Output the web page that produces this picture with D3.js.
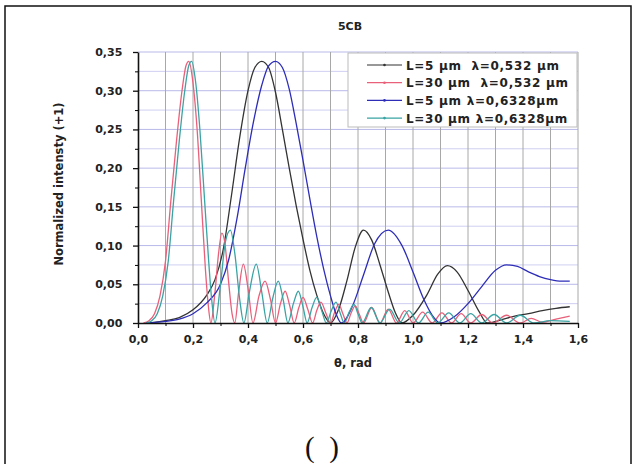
<!DOCTYPE html>
<html><head><meta charset="utf-8">
<script src="https://cdn.jsdelivr.net/npm/d3@7"></script>
<style>
html,body{margin:0;padding:0;background:#fff;}
svg{display:block;}
text{white-space:pre;}
</style></head>
<body>
<svg id="chart" width="636" height="464"></svg>
<script>
// ---- data ----
const titleText = "5CB";
const xLabel = "\u03b8, rad";
const yLabel = "Normalized intensty (+1)";
const xTicks = [0, 0.2, 0.4, 0.6, 0.8, 1.0, 1.2, 1.4, 1.6];
const yTicks = [0, 0.05, 0.10, 0.15, 0.20, 0.25, 0.30, 0.35];
const seriesNames = ["L=5 \u03bcm  \u03bb=0,532 \u03bcm", "L=30 \u03bcm  \u03bb=0,532 \u03bcm", "L=5 \u03bcm \u03bb=0,6328\u03bcm", "L=30 \u03bcm \u03bb=0,6328\u03bcm"];
const seriesColors = ["#333333", "#e8607a", "#2d2db8", "#3aa3a3"];

// L=5 um, lambda=0.532 um
const black = [[0.03,0],[0.06,0.0008],[0.1,0.003],[0.15,0.007],[0.2,0.017],[0.25,0.036],[0.28,0.056],[0.31,0.095],[0.34,0.165],[0.37,0.24],[0.40,0.30],[0.425,0.33],[0.45,0.338],[0.475,0.33],[0.50,0.298],[0.525,0.25],[0.55,0.2],[0.575,0.152],[0.60,0.108],[0.625,0.068],[0.65,0.036],[0.675,0.012],[0.70,0],
 [0.73,0.018],[0.76,0.055],[0.79,0.098],[0.82,0.12],[0.85,0.107],[0.88,0.075],[0.91,0.04],[0.935,0.014],[0.96,0],
 [1.0,0.01],[1.05,0.036],[1.09,0.063],[1.125,0.074],[1.16,0.066],[1.20,0.042],[1.24,0.015],[1.27,0],
 [1.32,0.004],[1.37,0.009],[1.42,0.012],[1.47,0.016],[1.52,0.019],[1.57,0.021]];

// L=30 um, lambda=0.532 um
const red = [[0.02,0],[0.04,0.003],[0.06,0.012],[0.08,0.035],[0.10,0.08],[0.12,0.16],[0.14,0.235],[0.16,0.30],[0.175,0.333],[0.185,0.338],[0.20,0.31],[0.215,0.25],[0.23,0.16],[0.245,0.07],[0.255,0.025],[0.265,0],
 [0.28,0.04],[0.293,0.09],[0.305,0.116],[0.316,0.103],[0.329,0.055],[0.342,0.012],[0.352,0],
 [0.366,0.04],[0.383,0.076],[0.40,0.045],[0.418,0],[0.44,0.035],[0.462,0.054],[0.482,0.03],[0.50,0],
 [0.518,0.025],[0.535,0.041],[0.552,0.022],[0.568,0],[0.585,0.02],[0.60,0.033],[0.618,0.017],[0.635,0],
 [0.65,0.016],[0.665,0.027],[0.683,0.013],[0.70,0],[0.715,0.014],[0.73,0.024],[0.745,0.012],[0.76,0],
 [0.775,0.013],[0.79,0.022],[0.805,0.011],[0.82,0],[0.85,0.02],[0.88,0],[0.91,0.018],[0.94,0],[0.97,0.016],[1.0,0],
 [1.035,0.014],[1.07,0],[1.105,0.013],[1.14,0],[1.175,0.012],[1.21,0],[1.25,0.011],[1.29,0],[1.34,0.01],[1.39,0],[1.43,0.006],[1.47,0.001],[1.52,0.005],[1.57,0.009]];

// L=5 um, lambda=0.6328 um
const blue = [[0.03,0],[0.1,0.002],[0.15,0.005],[0.2,0.012],[0.25,0.026],[0.3,0.05],[0.33,0.082],[0.36,0.135],[0.39,0.2],[0.42,0.26],[0.45,0.307],[0.475,0.332],[0.50,0.338],[0.525,0.33],[0.55,0.302],[0.575,0.258],[0.60,0.21],[0.625,0.16],[0.65,0.112],[0.675,0.07],[0.70,0.035],[0.72,0.012],[0.74,0],
 [0.78,0.022],[0.82,0.062],[0.86,0.102],[0.91,0.12],[0.96,0.10],[1.0,0.066],[1.04,0.03],[1.07,0.01],[1.10,0],
 [1.15,0.008],[1.2,0.025],[1.25,0.047],[1.30,0.068],[1.34,0.075],[1.38,0.073],[1.42,0.066],[1.46,0.06],[1.5,0.056],[1.54,0.054],[1.57,0.054]];

// L=30 um, lambda=0.6328 um
const cyan = [[0.03,0],[0.05,0.003],[0.07,0.012],[0.09,0.035],[0.11,0.08],[0.13,0.16],[0.15,0.235],[0.17,0.30],[0.185,0.333],[0.195,0.338],[0.21,0.31],[0.225,0.25],[0.24,0.17],[0.255,0.09],[0.268,0.03],[0.28,0],
 [0.30,0.05],[0.318,0.105],[0.336,0.12],[0.352,0.09],[0.37,0.03],[0.385,0],
 [0.405,0.04],[0.43,0.076],[0.45,0.04],[0.47,0],[0.49,0.032],[0.51,0.054],[0.528,0.03],[0.545,0],
 [0.565,0.025],[0.583,0.041],[0.60,0.021],[0.615,0],[0.633,0.02],[0.65,0.033],[0.668,0.016],[0.685,0],
 [0.703,0.016],[0.72,0.027],[0.735,0.013],[0.75,0],[0.768,0.014],[0.785,0.024],[0.80,0.012],[0.815,0],
 [0.848,0.02],[0.88,0],[0.915,0.018],[0.95,0],[0.985,0.016],[1.02,0],[1.055,0.014],[1.09,0],[1.13,0.013],[1.17,0],[1.21,0.012],[1.25,0],[1.295,0.011],[1.34,0],[1.39,0.01],[1.44,0],[1.5,0.003],[1.57,0.002]];

const seriesData = [black, red, blue, cyan];

// ---- layout ----
const svg = d3.select("#chart");
const L = 138, R = 578, T = 52, B = 323;
const x = d3.scaleLinear().domain([0, 1.6]).range([L, R]);
const y = d3.scaleLinear().domain([0, 0.35]).range([B, T]);
const comma = f => (v => d3.format(f)(v).replace(".", ","));

// outer frame
svg.append("rect").attr("x", 5).attr("y", 6).attr("width", 626).attr("height", 470)
  .attr("fill", "none").attr("stroke", "#111").attr("stroke-width", 1.5);

// grid
const g = svg.append("g");
g.selectAll("line.hg").data(d3.range(1, 15).map(i => i * 0.025)).join("line")
  .attr("x1", L).attr("x2", R).attr("y1", d => y(d)).attr("y2", d => y(d))
  .attr("stroke", (d, i) => i % 2 === 1 ? "#b9b9ea" : "#cfcff2").attr("stroke-width", 1);
g.selectAll("line.vg").data(d3.range(1, 17).map(i => i * 0.1)).join("line")
  .attr("x1", d => x(d)).attr("x2", d => x(d)).attr("y1", T).attr("y2", B)
  .attr("stroke", "#a8a8a8").attr("stroke-width", 1);

// curves
const line = d3.line().x(d => x(d[0])).y(d => y(d[1])).curve(d3.curveMonotoneX);
seriesData.forEach((s, i) => {
  svg.append("path").datum(s).attr("d", line).attr("fill", "none")
    .attr("stroke", seriesColors[i]).attr("stroke-width", 1.3);
});

// axes
const xAxis = d3.axisBottom(x).tickValues(xTicks).tickFormat(comma(".1f")).tickSize(5).tickSizeOuter(0);
const yAxis = d3.axisLeft(y).tickValues(yTicks).tickFormat(comma(".2f")).tickSize(5).tickSizeOuter(0);
const xa = svg.append("g").attr("transform", `translate(0,${B})`).call(xAxis);
const ya = svg.append("g").attr("transform", `translate(${L},0)`).call(yAxis);
// minor ticks
svg.append("g").attr("transform", `translate(0,${B})`)
  .call(d3.axisBottom(x).tickValues(d3.range(0, 8).map(i => 0.1 + i * 0.2)).tickSize(3).tickFormat(""))
  .select(".domain").remove();
svg.append("g").attr("transform", `translate(${L},0)`)
  .call(d3.axisLeft(y).tickValues(d3.range(0, 7).map(i => 0.025 + i * 0.05)).tickSize(3).tickFormat(""))
  .select(".domain").remove();
[xa, ya].forEach(a => {
  a.select(".domain").attr("stroke", "#111").attr("stroke-width", 1.6);
  a.selectAll(".tick line").attr("stroke", "#111").attr("stroke-width", 1.3);
  a.selectAll("text").attr("font-family", "DejaVu Sans").attr("font-weight", "bold")
    .attr("font-size", 11).attr("fill", "#222");
});
xa.selectAll("text").attr("dy", "1.05em");
ya.selectAll("text").attr("dx", "-0.7em");

// titles
svg.append("text").attr("x", 350).attr("y", 30).attr("text-anchor", "middle")
  .attr("font-family", "DejaVu Sans").attr("font-weight", "bold").attr("font-size", 11).attr("fill", "#222")
  .text(titleText);
svg.append("text").attr("x", 353).attr("y", 367).attr("text-anchor", "middle")
  .attr("font-family", "DejaVu Sans").attr("font-weight", "bold").attr("font-size", 11.5).attr("fill", "#222")
  .text(xLabel);
svg.append("text").attr("transform", "translate(63,184) rotate(-90)").attr("text-anchor", "middle")
  .attr("font-family", "DejaVu Sans").attr("font-weight", "bold").attr("font-size", 11.5).attr("fill", "#222")
  .text(yLabel);

// legend
const lg = svg.append("g");
lg.append("rect").attr("x", 348).attr("y", 53).attr("width", 229).attr("height", 74)
  .attr("fill", "#fff").attr("stroke", "#bbb").attr("stroke-width", 1);
seriesNames.forEach((n, i) => {
  const yy = 65 + i * 17.7;
  lg.append("line").attr("x1", 367).attr("x2", 402).attr("y1", yy).attr("y2", yy)
    .attr("stroke", seriesColors[i]).attr("stroke-width", 1.2);
  lg.append("circle").attr("cx", 384.5).attr("cy", yy).attr("r", 1.3).attr("fill", seriesColors[i]);
  lg.append("text").attr("x", 406).attr("y", yy + 4.5)
    .attr("font-family", "DejaVu Sans").attr("font-weight", "bold").attr("font-size", 12)
    .attr("letter-spacing", "0.7px").attr("fill", "#222").text(n);
});

// caption
svg.append("text").attr("x", 322).attr("y", 457).attr("text-anchor", "middle")
  .attr("font-family", "Liberation Serif").attr("font-size", 29).attr("fill", "#111")
  .text("(\u00a0\u00a0)");
</script>
</body></html>
